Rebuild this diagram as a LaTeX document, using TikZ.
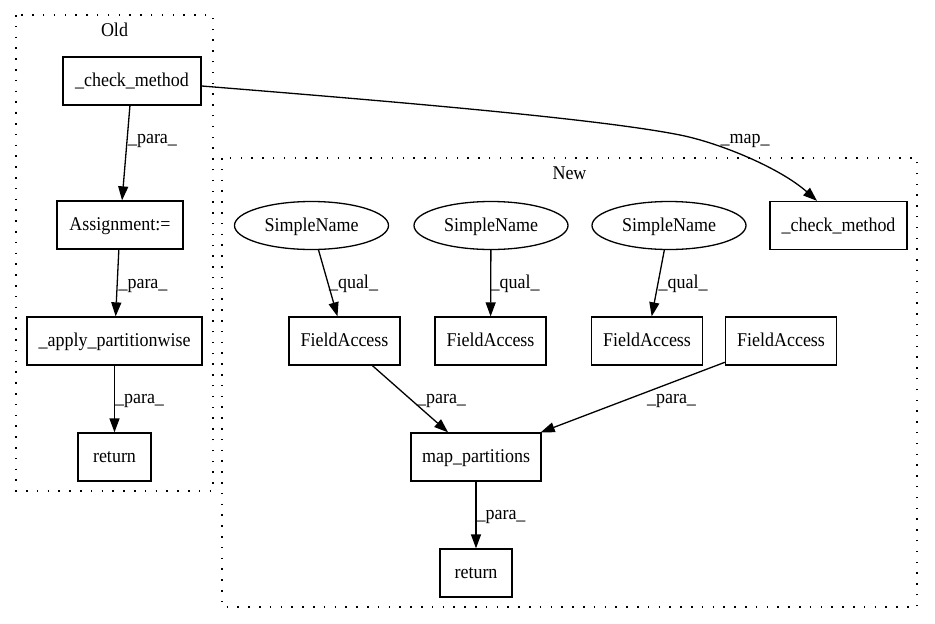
\documentclass[tikz,border=0pt]{standalone}
\usepackage{fontspec}
\setmainfont{Liberation Serif}[FakeStretch=0.923]
\usetikzlibrary{arrows.meta,shapes.geometric}
\begin{document}
\begin{tikzpicture}[x=1pt,y=-1pt,
  every node/.style={font=\fontsize{19.5}{22}\selectfont, inner sep=0pt, text height=15pt, text depth=4pt},
  box/.style={draw, line width=1.3pt, rectangle, minimum height=48pt},
  ell/.style={draw, line width=1.3pt, ellipse, minimum width=154pt, minimum height=48pt},
  conn/.style={line width=1.3pt, -{Triangle[length=14pt,width=10pt]}},
  lab/.style={},
  cluster/.style={draw, line width=1.3pt, dash pattern=on 1.5pt off 9.3pt}
]
\useasboundingbox (0,0) rectangle (935,624);

% clusters
\draw[cluster] (16,15) rectangle (213,491);
\node[lab] (oldlabel) at (114.5,31.2) {Old};
\draw[cluster] (222,158) rectangle (917,607);
\node[lab] (newlabel) at (569.5,174.2) {New};

% old nodes
\node[box, minimum width=138pt] (oldcheck) at (132,81) {\_check\_method};
\node[box, minimum width=126pt] (assign) at (120,225) {Assignment:=};
\node[box, minimum width=175pt] (apply) at (114.5,341) {\_apply\_partitionwise};
\node[box, minimum width=73pt] (oldret) at (114.5,457) {return};

% new nodes
\node[box, minimum width=137pt] (newcheck) at (838.5,225.5) {\_check\_method};
\node[ell] (sn1) at (311.5,225.5) {SimpleName};
\node[ell] (sn2) at (491,225.5) {SimpleName};
\node[ell] (sn3) at (669,225.5) {SimpleName};
\node[box, minimum width=111pt] (fa1) at (344.5,341) {FieldAccess};
\node[box, minimum width=111pt] (fa2) at (490.5,341) {FieldAccess};
\node[box, minimum width=111pt] (fa3) at (647,341) {FieldAccess};
\node[box, minimum width=111pt] (fa4) at (781,341) {FieldAccess};
\node[box, minimum width=130pt] (mp) at (476,457) {map\_partitions};
\node[box, minimum width=72pt] (newret) at (476,573) {return};

% old edges
\draw[conn] (oldcheck) -- (assign);
\node[lab] (l1) at (152.5,137.5) {\_para\_};
\draw[conn] (assign) -- (apply);
\node[lab] (l2) at (143,282.5) {\_para\_};
\draw[conn] (apply) -- (oldret);
\node[lab] (l3) at (139.5,397.5) {\_para\_};

% map edge
\coordinate (ms) at ([yshift=-5pt]oldcheck.east);
\coordinate (me) at ([xshift=-21.5pt]newcheck.north);
\draw[conn] (ms) .. controls (400,102) and (600,119) .. (680,135)
  .. controls (720,143) and (780,168) .. (me);
\node[lab] (lmap) at (745,137.5) {\_map\_};

% new edges
\draw[conn] (sn1) -- (fa1);
\node[lab] (q1) at (353.5,282.5) {\_qual\_};
\draw[conn] (sn2) -- (fa2);
\node[lab] (q2) at (515,282.5) {\_qual\_};
\draw[conn] (sn3) -- (fa3);
\node[lab] (q3) at (683,282.5) {\_qual\_};
\draw[conn] (fa1) -- (mp);
\node[lab] (l4) at (441.5,397.5) {\_para\_};
\draw[conn] (fa4) -- (mp);
\node[lab] (l5) at (671.5,397.5) {\_para\_};
\draw[conn] (mp) -- (newret);
\node[lab] (l6) at (501,514) {\_para\_};
\end{tikzpicture}
\end{document}
